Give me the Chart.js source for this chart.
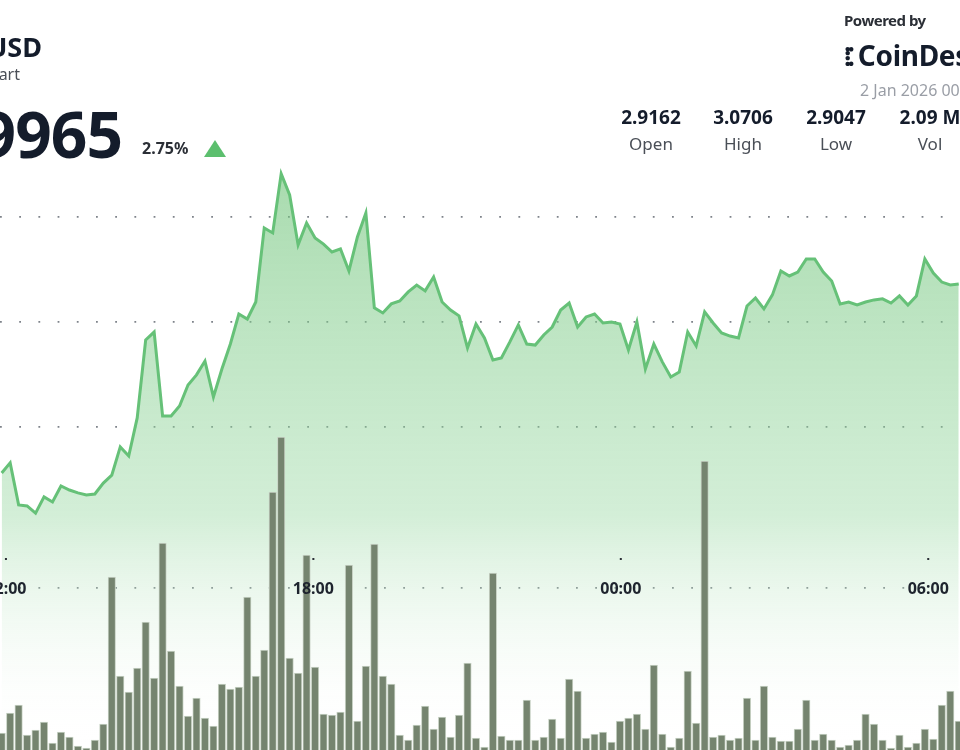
<!DOCTYPE html>
<html>
<head>
<meta charset="utf-8">
<script src="https://cdn.jsdelivr.net/npm/chart.js@4/dist/chart.umd.min.js"></script>
<style>
  html, body { margin: 0; padding: 0; background: #fff; overflow: hidden; }
  body { width: 960px; height: 750px; position: relative; font-family: "Noto Sans", "Open Sans", sans-serif; color: #141c2b; }
  #wrap { position: absolute; left: 0; top: 0; width: 960px; height: 750px; }
  .abs { position: absolute; white-space: nowrap; }
  .r { text-align: right; }
  .stat { position: absolute; top: 104px; width: 90px; text-align: center; }
  .stat b { display: block; font-size: 19px; font-weight: 700; line-height: 26px; }
  .stat span { display: block; font-size: 17px; color: #4a4f57; line-height: 28px; }
</style>
</head>
<body>
<div id="wrap"><canvas id="chart" width="960" height="750"></canvas></div>

<div class="abs r" style="right:918px;top:28px;font-size:27px;font-weight:700;">XRP/USD</div>
<div class="abs r" style="right:940px;top:63px;font-size:16px;color:#4a4f57;">Price Chart</div>
<div class="abs r" style="right:838px;top:90px;font-size:64px;font-weight:700;letter-spacing:-1px;">2.9965</div>
<div class="abs" style="left:142px;top:137px;font-size:16px;font-weight:700;color:#2b2f36;">2.75%</div>
<div class="abs" style="left:204px;top:140px;width:0;height:0;border-left:11px solid transparent;border-right:11px solid transparent;border-bottom:17px solid #5cbf6e;"></div>

<div class="abs" style="left:844px;top:10px;font-size:15px;font-weight:700;color:#2b2f36;letter-spacing:-0.5px;">Powered by</div>
<div class="abs" style="left:844px;top:36px;font-size:28px;font-weight:700;color:#141c2b;letter-spacing:-0.3px;">
  <span style="font-size:26px;letter-spacing:-4px;">⁞⁚</span> CoinDesk</div>
<div class="abs" style="left:860px;top:79px;font-size:16px;color:#9a9ea6;">2 Jan 2026 00:00 UTC</div>

<div class="stat" style="left:606px;"><b>2.9162</b><span>Open</span></div>
<div class="stat" style="left:698px;"><b>3.0706</b><span>High</span></div>
<div class="stat" style="left:791px;"><b>2.9047</b><span>Low</span></div>
<div class="stat" style="left:885px;"><b>2.09 M</b><span>Vol</span></div>

<script>
// 10-minute candles, index 0 = 11:55
const prices = [
  2.9281, 2.9329, 2.9129, 2.9124, 2.9090, 2.9167, 2.9143, 2.9219, 2.9200, 2.9186,
  2.9176, 2.9181, 2.9233, 2.9271, 2.9405, 2.9362, 2.9543, 2.9914, 2.9952, 2.9552,
  2.9552, 2.9600, 2.9700, 2.9748, 2.9814, 2.9643, 2.9776, 2.9895, 3.0038, 3.0014,
  3.0095, 3.0448, 3.0424, 3.0706, 3.0605, 3.0367, 3.0471, 3.0400, 3.0371, 3.0333,
  3.0348, 3.0243, 3.0405, 3.0519, 3.0067, 3.0043, 3.0086, 3.0100, 3.0143, 3.0176,
  3.0148, 3.0214, 3.0095, 3.0057, 3.0029, 2.9876, 2.9990, 2.9924, 2.9819, 2.9829,
  2.9905, 2.9986, 2.9895, 2.9890, 2.9938, 2.9976, 3.0057, 3.0090, 2.9976, 3.0024,
  3.0038, 2.9995, 3.0000, 2.9990, 2.9867, 3.0000, 2.9776, 2.9895, 2.9810, 2.9738,
  2.9762, 2.9952, 2.9886, 3.0048, 2.9995, 2.9948, 2.9933, 2.9924, 3.0076, 3.0114,
  3.0062, 3.0129, 3.0243, 3.0219, 3.0238, 3.0300, 3.0300, 3.0238, 3.0195, 3.0086,
  3.0095, 3.0081, 3.0095, 3.0105, 3.0110, 3.0090, 3.0124, 3.0081, 3.0124, 3.0300,
  3.0233, 3.0190, 3.0176, 3.0181
];

// volume per candle (thousands)
const volumes = [
  17, 37, 45, 15, 20, 28, 7, 18, 13, 4,
  2, 10, 26, 173, 74, 58, 82, 128, 72, 207,
  99, 64, 34, 52, 32, 24, 66, 61, 63, 153,
  74, 100, 258, 313, 92, 77, 195, 83, 36, 35,
  38, 185, 29, 84, 206, 74, 66, 15, 10, 25,
  44, 21, 33, 13, 35, 87, 12, 3, 177, 14,
  10, 10, 50, 10, 13, 31, 12, 71, 59, 12,
  16, 18, 8, 29, 32, 36, 21, 85, 16, 3,
  12, 79, 27, 289, 13, 15, 10, 12, 52, 10,
  64, 13, 9, 9, 21, 50, 10, 16, 10, 3,
  5, 10, 36, 26, 10, 2, 15, 3, 7, 21,
  11, 45, 59, 29
];

const tickPos = [0.5, 36.8, 73.1, 109.4];
const tickLabels = ['12:00', '18:00', '00:00', '06:00'];
const gridPrices = [3.05, 3.00, 2.95, 2.8733];

const xMin = -0.2;
const xMax = 113.15;

const timeLabels = {
  id: 'timeLabels',
  afterDatasetsDraw(chart) {
    const { ctx, scales } = chart;
    ctx.save();
    ctx.font = 'bold 16px "Noto Sans", sans-serif';
    ctx.textAlign = 'center';
    ctx.textBaseline = 'middle';
    tickPos.forEach((v, i) => {
      const x = scales.x.getPixelForValue(v);
      ctx.fillStyle = '#2b2f36';
      ctx.fillRect(x - 1, 558, 2, 2);
      ctx.fillStyle = '#1e242e';
      ctx.fillText(tickLabels[i], x, 589);
    });
    ctx.restore();
  }
};

new Chart(document.getElementById('chart'), {
  data: {
    datasets: [
      {
        type: 'line',
        yAxisID: 'y',
        data: prices.map((p, i) => ({ x: i, y: p })),
        borderColor: '#66c178',
        borderWidth: 3,
        pointRadius: 0,
        tension: 0,
        fill: 'start',
        backgroundColor: c => {
          const g = c.chart.ctx.createLinearGradient(0, 170, 0, 745);
          g.addColorStop(0, 'rgba(110,195,120,0.6)');
          g.addColorStop(0.6, 'rgba(150,215,160,0.42)');
          g.addColorStop(1, 'rgba(255,255,255,0)');
          return g;
        },
        order: 2
      },
      {
        type: 'bar',
        yAxisID: 'yv',
        data: volumes.map((v, i) => ({ x: i, y: v })),
        backgroundColor: '#75846f',
        borderColor: '#c9d3c6',
        borderWidth: { left: 1, right: 1, top: 1, bottom: 0 },
        barThickness: 7.5,
        order: 1
      }
    ]
  },
  options: {
    responsive: false,
    animation: false,
    layout: { padding: 0 },
    plugins: { legend: { display: false }, tooltip: { enabled: false } },
    scales: {
      x: {
        type: 'linear', min: xMin, max: xMax, offset: false,
        display: false
      },
      y: {
        min: 2.7962, max: 3.1533,
        position: 'left',
        afterBuildTicks: ax => { ax.ticks = gridPrices.map(v => ({ value: v })); },
        ticks: { display: false },
        border: { display: false, dash: [1.8, 17.4] },
        grid: { color: '#7e838a', lineWidth: 1.8, drawTicks: false }
      },
      yv: {
        min: 0, max: 750,
        display: false
      }
    }
  },
  plugins: [timeLabels]
});
</script>
</body>
</html>
